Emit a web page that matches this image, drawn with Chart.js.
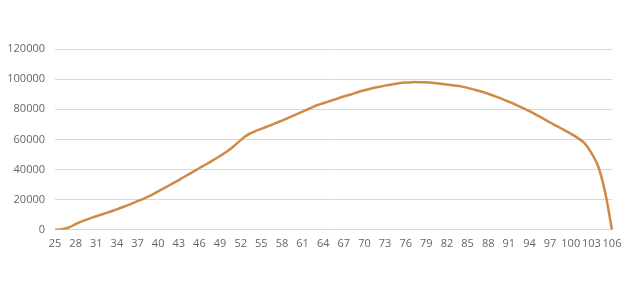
<!DOCTYPE html>
<html>
<head>
<meta charset="utf-8">
<script src="https://cdn.jsdelivr.net/npm/chart.js@4/dist/chart.umd.min.js"></script>
<style>
  html, body { margin: 0; padding: 0; background: #fff; }
  #wrap { width: 636px; height: 290px; }
</style>
</head>
<body>
<div id="wrap"><canvas id="chart" width="636" height="290"></canvas></div>
<script>
// ages 25..106, one point per year
const ages = [];
for (let a = 25; a <= 106; a++) ages.push(String(a));

const values = [
  0, 300, 1500, 3800, 5800, 7400, 9000, 10500, 12000, 13600,      // 25-34
  15300, 17100, 19000, 20800, 23000, 25500, 28000, 30500, 33000, 35700, // 35-44
  38300, 41000, 43500, 46200, 49000, 52000, 55500, 59500, 63000, 65200, // 45-54
  67000, 68800, 70600, 72500, 74500, 76500, 78500, 80500, 82500, 84000, // 55-64
  85500, 87000, 88500, 89800, 91300, 92600, 93800, 94800, 95700, 96500, // 65-74
  97200, 97700, 98000, 98000, 97900, 97500, 97000, 96400, 95800, 95200, // 75-84
  94200, 93000, 91800, 90300, 88600, 86900, 85000, 83000, 80900, 78700, // 85-94
  76300, 73800, 71200, 68800, 66300, 63800, 61000, 57500, 51000, 42000, // 95-104
  25000, 0                                                              // 105-106
];

const yTicks = [0, 20000, 40000, 60000, 80000, 100000, 120000];

const ctx = document.getElementById('chart').getContext('2d');
new Chart(ctx, {
  type: 'line',
  data: {
    labels: ages,
    datasets: [{
      data: values,
      borderColor: '#CF8A45',
      borderWidth: 2.5,
      pointRadius: 0,
      tension: 0.3,
      fill: false
    }]
  },
  options: {
    responsive: false,
    animation: false,
    layout: { padding: { top: 49, left: 0, right: 24, bottom: 33 } },
    plugins: { legend: { display: false }, tooltip: { enabled: false } },
    scales: {
      x: {
        offset: false,
        grid: { display: false, drawTicks: false },
        border: { display: false },
        ticks: {
          autoSkip: false,
          maxRotation: 0,
          minRotation: 0,
          padding: 7,
          color: '#666',
          font: { family: 'Open Sans', size: 11 },
          callback: (v, i) => (i % 3 === 0 ? ages[i] : '')
        }
      },
      y: {
        min: 0,
        max: 120000,
        afterBuildTicks: s => { s.ticks = yTicks.map(v => ({ value: v })); },
        afterFit: s => { s.width = 55; },
        grid: { color: '#d9d9d9', drawTicks: false },
        border: { display: false },
        ticks: {
          padding: 10,
          color: '#666',
          font: { family: 'Open Sans', size: 11 },
          callback: v => String(v)
        }
      }
    }
  }
});
</script>
</body>
</html>
